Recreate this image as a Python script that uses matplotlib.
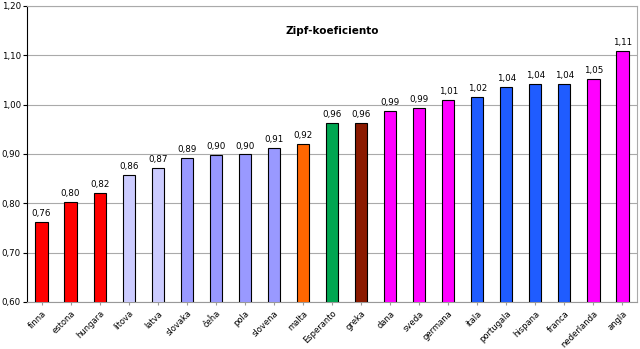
import matplotlib
matplotlib.use("Agg")
import matplotlib.pyplot as plt

categories = ["finna", "estona", "hungara", "litova", "latva", "slovaka", "ĉeĥa", "pola",
              "slovena", "malta", "Esperanto", "greka", "dana", "sveda", "germana", "itala",
              "portugala", "hispana", "franca", "nederlanda", "angla"]
values = [0.762, 0.802, 0.821, 0.857, 0.872, 0.891, 0.898, 0.899, 0.913, 0.921, 0.962,
          0.962, 0.988, 0.993, 1.009, 1.016, 1.035, 1.041, 1.041, 1.053, 1.109]
labels = ["0,76", "0,80", "0,82", "0,86", "0,87", "0,89", "0,90", "0,90", "0,91", "0,92", "0,96",
          "0,96", "0,99", "0,99", "1,01", "1,02", "1,04", "1,04", "1,04", "1,05", "1,11"]
colors = ["#FF0000", "#FF0000", "#FF0000", "#CCCCFF", "#CCCCFF", "#9999FF", "#9999FF", "#9999FF",
          "#9999FF", "#FF6600", "#00A651", "#8B1A00", "#FF00FF", "#FF00FF", "#FF00FF", "#1F5CFF",
          "#1F5CFF", "#1F5CFF", "#1F5CFF", "#FF00FF", "#FF00FF"]
yticks = [0.60, 0.70, 0.80, 0.90, 1.00, 1.10, 1.20]
ytick_labels = ["0,60", "0,70", "0,80", "0,90", "1,00", "1,10", "1,20"]

fig = plt.figure(figsize=(6.4, 3.49), dpi=100)
ax = fig.add_axes([27/640, 1 - 302/349, 610/640, 296/349])
x = list(range(len(categories)))
ax.bar(x, values, width=0.42, bottom=0, color=colors, edgecolor="black", linewidth=0.8, zorder=3)
ax.set_ylim(0.60, 1.20)
ax.set_xlim(-0.5, len(categories) - 0.5)
ax.set_yticks(yticks)
ax.set_yticklabels(ytick_labels, fontsize=6.2)
ax.set_xticks(x)
ax.set_xticklabels(categories, rotation=45, ha="right", rotation_mode="anchor", fontsize=6.0)
ax.tick_params(axis="x", length=2, pad=3, color="#999999")
ax.tick_params(axis="y", length=3, pad=1.5)
ax.yaxis.grid(True, color="#AAAAAA", linewidth=0.8, zorder=0)
for s in ["top", "right"]:
    ax.spines[s].set_color("#AAAAAA")
ax.spines["bottom"].set_color("#999999")
ax.spines["left"].set_color("black")
for xi, v, lab in zip(x, values, labels):
    ax.text(xi, v + 0.008, lab, ha="center", va="bottom", fontsize=6.3, zorder=4)
ax.text(0.5, 0.915, "Zipf-koeficiento", transform=ax.transAxes, ha="center", va="center",
        fontsize=7.5, fontweight="bold")
fig.savefig("out.png", dpi=100)
